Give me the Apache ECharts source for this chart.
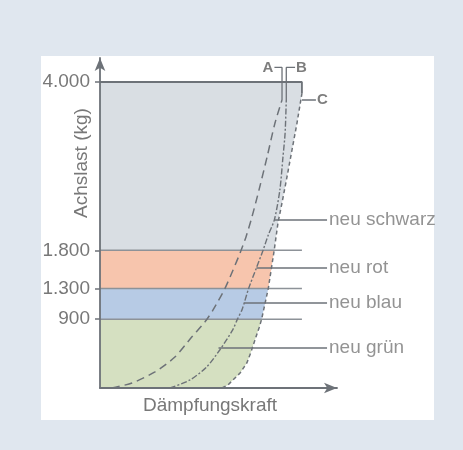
<!DOCTYPE html>
<html><head><meta charset="utf-8">
<script src="https://cdn.jsdelivr.net/npm/echarts@6/dist/echarts.min.js"></script>
<style>html,body{margin:0;padding:0;background:#e0e7ef}#c{width:463px;height:450px}</style>
</head><body><div id="c"></div>
<script>
// ---- data ----
const yTickValues = [900, 1300, 1800, 4000];
const bandLimits = [0, 900, 1300, 1800, 4000];
const curveA = [[5,0],[13.5,65],[23.2,210],[31.6,405],[38.8,670],[44.3,865],[47.7,1020],[52.7,1300],[56.1,1540],[59.1,1765],[61.6,1975],[64.1,2235],[67.1,2590],[70.5,3020],[73.8,3460],[76.8,3765]];
const curveB = [[29.5,0],[38,105],[45,275],[50.6,500],[56,760],[58,900],[60,1030],[62.7,1300],[66,1570],[68.8,1800],[71,2000],[73.6,2200],[75.9,2590],[77.2,3020],[78.1,3330],[78.6,3765]];
const curveC = [[51.5,0],[54,40],[56.1,105],[59.1,195],[62,330],[63.7,470],[65.4,630],[67.1,785],[68.2,900],[71,1300],[73.5,1800],[75.1,2160],[76.8,2420],[78.9,2760],[81,3110],[83.1,3460],[85.2,3850]];
const boxTop = [[0,4000],[85.2,4000],[85.2,3850]];
const curveNames = ['A','B','C'];
const curveLeaders = [
  [[76.8,3765],[76.8,4190],[73.6,4190]],
  [[78.6,3765],[78.6,4190],[82.3,4190]],
  [[85.2,3765],[91.1,3765]]
];
const newNames = ['neu schwarz','neu rot','neu blau','neu grün'];
const newLeaderY = [2196, 1569, 1111, 523];
const newLeaderStartX = [73.6, 66, 60.8, 50];
const newLeaderEndX = 95.8;
const xName = 'Dämpfungskraft';
const yName = 'Achslast (kg)';

// ---- font detection ----
function hasFont(name){
  const c=document.createElement('canvas').getContext('2d');
  const s='abcdefghijklmnopqrstuvwxyz0123456789';
  c.font='40px monospace'; const w1=c.measureText(s).width;
  c.font='40px "'+name+'", monospace'; const w2=c.measureText(s).width;
  return w1!==w2;
}
const narrow = hasFont('Liberation Sans Narrow');
const FONT = narrow ? '"Liberation Sans Narrow"' : '"Liberation Sans", Arial, sans-serif';
const FS = narrow ? 23 : 19;
const TXT = '#787878';
const LINE = '#6d7278';
const bandColors = ['#d5e0c1','#b7cbe5','#f7c5ad','#d9dee3'];

const fillEdge = curveC.concat([boxTop[1]]);
const fmt = v => String(v).replace(/\B(?=(\d{3})+(?!\d))/g, '.');

const chart = echarts.init(document.getElementById('c'));
const series = [];
series.push({
  type:'custom', coordinateSystem:'cartesian2d', z:1, silent:true, clip:false,
  encode:{x:0, y:[1,2]},
  data: bandLimits.slice(0,-1).map((lo,i)=>[0, lo, bandLimits[i+1]]),
  renderItem(params, api){
    const lo = api.value(1), hi = api.value(2);
    const pts = [api.coord([0, lo]), api.coord([0, hi])];
    fillEdge.slice().reverse().forEach(p => { if (p[1] <= hi && p[1] >= lo) pts.push(api.coord(p)); });
    return {type:'polygon', shape:{points:pts}, style:{fill: bandColors[params.dataIndex]}};
  }
});
bandLimits.slice(1,-1).forEach(v => series.push({
  type:'line', z:3, silent:true, symbol:'none',
  data:[[0,v],[boxTop[1][0],v]],
  lineStyle:{color:'#8d9298', width:1.5}
}));
series.push({type:'line', z:4, silent:true, symbol:'none', data:boxTop, lineStyle:{color:LINE, width:1.8}});
series.push({type:'line', z:5, silent:true, symbol:'none', smooth:0.25, data:curveA, lineStyle:{color:LINE, width:1.5, type:[8,5]}});
series.push({type:'line', z:5, silent:true, symbol:'none', smooth:0.25, data:curveB, lineStyle:{color:LINE, width:1.4, type:[6,2,2,2]}});
series.push({type:'line', z:5, silent:true, symbol:'none', data:curveC, lineStyle:{color:LINE, width:1.5, type:[4,3]}});
curveLeaders.forEach((pts,i) => {
  series.push({type:'line', z:6, silent:true, symbol:'none', data:pts, lineStyle:{color:LINE, width:1.3}});
  series.push({type:'scatter', z:7, silent:true, symbolSize:0,
    data:[{name:curveNames[i], value:pts[pts.length-1]}],
    label:{show:true, formatter:'{b}', position: i===0?'left':'right', distance:1,
      fontFamily:FONT, fontSize:Math.round(FS*0.8), fontWeight:'bold', color:'#5d5d5d'}});
});
newNames.forEach((n,i) => {
  series.push({type:'line', z:6, silent:true, symbol:'none',
    data:[[newLeaderStartX[i], newLeaderY[i]],[newLeaderEndX, newLeaderY[i]]],
    lineStyle:{color:LINE, width:1.5}});
});
series.push({type:'scatter', z:7, silent:true, symbolSize:0,
  data:newNames.map((n,i)=>({name:n, value:[newLeaderEndX, newLeaderY[i]]})),
  label:{show:true, formatter:'{b}', position:'right', distance:2, fontFamily:FONT, fontSize:FS, color:TXT}});

chart.setOption({
  backgroundColor:'#e0e7ef',
  animation:false,
  grid:{left:100, right:126, top:57.98, bottom:62, containLabel:false},
  graphic:[
    {type:'rect', z:-100, silent:true, shape:{x:41, y:56, width:393, height:364}, style:{fill:'#ffffff'}},
    {type:'text', z:100, silent:true, x:82, y:163, rotation:Math.PI/2,
      style:{text:yName, fontFamily:FONT, fontSize:FS, fill:TXT, align:'center', verticalAlign:'middle'}}
  ],
  xAxis:{type:'value', min:0, max:100, z:10,
    axisLine:{show:true, symbol:['none','arrow'], symbolSize:[8,13], lineStyle:{color:LINE, width:1.8}},
    axisTick:{show:false}, axisLabel:{show:false}, splitLine:{show:false},
    name:xName, nameLocation:'middle', nameGap:8,
    nameTextStyle:{fontFamily:FONT, fontSize:FS, color:TXT, verticalAlign:'top', padding:[0,17,0,0]}
  },
  yAxis:{type:'value', min:0, max:4314, z:10,
    axisLine:{show:true, symbol:['none','arrow'], symbolSize:[8,13], lineStyle:{color:LINE, width:1.8}},
    axisTick:{show:true, customValues:yTickValues, length:5, lineStyle:{color:LINE, width:1.5}},
    axisLabel:{show:true, customValues:yTickValues, formatter:v=>fmt(v), margin:10,
      fontFamily:FONT, fontSize:FS, color:TXT},
    splitLine:{show:false}
  },
  series
});
</script></body></html>
